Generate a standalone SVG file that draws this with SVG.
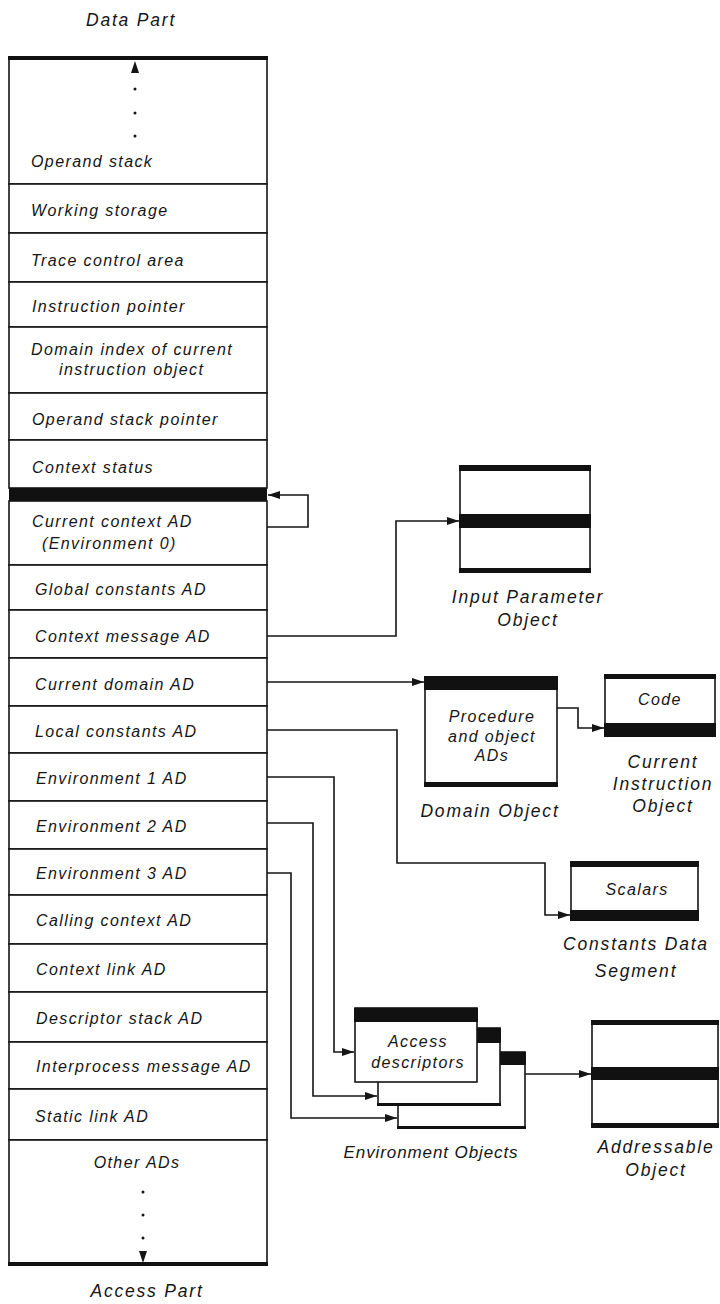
<svg xmlns="http://www.w3.org/2000/svg" width="720" height="1304" viewBox="0 0 720 1304">
  <style>
    text { font-family: "Liberation Sans", Arial, sans-serif; font-style: italic; fill: #151515; }
    .lbl { font-size: 16px; letter-spacing: 1.4px; }
    .cap { font-size: 17.5px; letter-spacing: 1.8px; }
    .mid { text-anchor: middle; }
    .box { fill: #fff; stroke: #151515; stroke-width: 1.6; }
    .row { fill: #fff; stroke: #151515; stroke-width: 1.6; }
    .bar { fill: #111; }
    .wire { fill: none; stroke: #151515; stroke-width: 1.6; }
    .dot { fill: #151515; }
  </style>
  <defs>
    <marker id="ah" viewBox="0 0 12 8" refX="12" refY="4" markerWidth="12" markerHeight="8" markerUnits="userSpaceOnUse" orient="auto">
      <path d="M0,0 L12,4 L0,8 Z" fill="#151515"/>
    </marker>
  </defs>

  <rect width="720" height="1304" fill="#fff"/>

  <!-- captions of the context object -->
  <text id="data-part" class="cap mid" x="131" y="26">Data Part</text>
  <text id="access-part" class="cap mid" x="147" y="1297">Access Part</text>

  <!-- context object: data part rows -->
  <g id="operand-stack">
    <rect class="row" x="9" y="58" width="258" height="126"/>
    <path d="M135,61 L139,73 L131,73 Z" class="dot"/>
    <circle class="dot" cx="135" cy="89" r="1.5"/>
    <circle class="dot" cx="135" cy="113" r="1.5"/>
    <circle class="dot" cx="135" cy="136" r="1.5"/>
    <text class="lbl" x="31" y="167">Operand stack</text>
  </g>
  <g id="working-storage">
    <rect class="row" x="9" y="184" width="258" height="49"/>
    <text class="lbl" x="31" y="216">Working storage</text>
  </g>
  <g id="trace-control">
    <rect class="row" x="9" y="233" width="258" height="49"/>
    <text class="lbl" x="31" y="266">Trace control area</text>
  </g>
  <g id="instruction-pointer">
    <rect class="row" x="9" y="282" width="258" height="45"/>
    <text class="lbl" x="32" y="312">Instruction pointer</text>
  </g>
  <g id="domain-index">
    <rect class="row" x="9" y="327" width="258" height="66"/>
    <text class="lbl" x="31" y="355">Domain index of current</text>
    <text class="lbl" x="59" y="375">instruction object</text>
  </g>
  <g id="operand-stack-pointer">
    <rect class="row" x="9" y="393" width="258" height="47"/>
    <text class="lbl" x="32" y="425">Operand stack pointer</text>
  </g>
  <g id="context-status">
    <rect class="row" x="9" y="440" width="258" height="48"/>
    <text class="lbl" x="32" y="473">Context status</text>
  </g>
  <!-- boundary between data part and access part -->
  <rect id="part-boundary" class="bar" x="9" y="488" width="258" height="13"/>

  <!-- context object: access part rows -->
  <g id="current-context-ad">
    <rect class="row" x="9" y="501" width="258" height="64"/>
    <text class="lbl" x="32" y="527">Current context AD</text>
    <text class="lbl" x="42" y="549">(Environment 0)</text>
  </g>
  <g id="global-constants-ad">
    <rect class="row" x="9" y="565" width="258" height="45"/>
    <text class="lbl" x="35" y="595">Global constants AD</text>
  </g>
  <g id="context-message-ad">
    <rect class="row" x="9" y="610" width="258" height="48"/>
    <text class="lbl" x="35" y="642">Context message AD</text>
  </g>
  <g id="current-domain-ad">
    <rect class="row" x="9" y="658" width="258" height="48"/>
    <text class="lbl" x="35" y="690">Current domain AD</text>
  </g>
  <g id="local-constants-ad">
    <rect class="row" x="9" y="706" width="258" height="47"/>
    <text class="lbl" x="35" y="737">Local constants AD</text>
  </g>
  <g id="environment-1-ad">
    <rect class="row" x="9" y="753" width="258" height="48"/>
    <text class="lbl" x="36" y="784">Environment 1 AD</text>
  </g>
  <g id="environment-2-ad">
    <rect class="row" x="9" y="801" width="258" height="48"/>
    <text class="lbl" x="36" y="832">Environment 2 AD</text>
  </g>
  <g id="environment-3-ad">
    <rect class="row" x="9" y="849" width="258" height="46"/>
    <text class="lbl" x="36" y="879">Environment 3 AD</text>
  </g>
  <g id="calling-context-ad">
    <rect class="row" x="9" y="895" width="258" height="49"/>
    <text class="lbl" x="36" y="926">Calling context AD</text>
  </g>
  <g id="context-link-ad">
    <rect class="row" x="9" y="944" width="258" height="48"/>
    <text class="lbl" x="36" y="975">Context link AD</text>
  </g>
  <g id="descriptor-stack-ad">
    <rect class="row" x="9" y="992" width="258" height="50"/>
    <text class="lbl" x="36" y="1024">Descriptor stack AD</text>
  </g>
  <g id="interprocess-message-ad">
    <rect class="row" x="9" y="1042" width="258" height="47"/>
    <text class="lbl" x="36" y="1072">Interprocess message AD</text>
  </g>
  <g id="static-link-ad">
    <rect class="row" x="9" y="1089" width="258" height="51"/>
    <text class="lbl" x="35" y="1122">Static link AD</text>
  </g>
  <g id="other-ads">
    <rect class="row" x="9" y="1140" width="258" height="124"/>
    <text class="lbl mid" x="137" y="1168">Other ADs</text>
    <circle class="dot" cx="143" cy="1192" r="1.5"/>
    <circle class="dot" cx="143" cy="1215" r="1.5"/>
    <circle class="dot" cx="143" cy="1238" r="1.5"/>
    <path d="M143,1263 L147,1251 L139,1251 Z" class="dot"/>
  </g>
  <!-- heavy ends of the context object -->
  <rect class="bar" x="8" y="56" width="260" height="4"/>
  <rect class="bar" x="8" y="1262" width="260" height="4"/>

  <!-- referenced objects -->
  <g id="input-parameter-object">
    <rect class="box" x="460" y="468" width="130" height="103"/>
    <rect class="bar" x="459" y="465" width="132" height="6"/>
    <rect class="bar" x="459" y="514" width="132" height="14"/>
    <rect class="bar" x="459" y="568" width="132" height="5"/>
    <text class="cap mid" x="528" y="603">Input Parameter</text>
    <text class="cap mid" x="528" y="626">Object</text>
  </g>
  <g id="domain-object">
    <rect class="box" x="425" y="677" width="132" height="108"/>
    <rect class="bar" x="424" y="676" width="134" height="14"/>
    <rect class="bar" x="424" y="782" width="134" height="5"/>
    <text class="lbl mid" x="492" y="722">Procedure</text>
    <text class="lbl mid" x="492" y="742">and object</text>
    <text class="lbl mid" x="492" y="761">ADs</text>
    <text class="cap mid" x="490" y="817">Domain Object</text>
  </g>
  <g id="current-instruction-object">
    <rect class="box" x="605" y="676" width="110" height="60"/>
    <rect class="bar" x="604" y="674" width="112" height="5"/>
    <rect class="bar" x="604" y="723" width="112" height="14"/>
    <text class="lbl mid" x="660" y="705">Code</text>
    <text class="cap mid" x="663" y="768">Current</text>
    <text class="cap mid" x="663" y="790">Instruction</text>
    <text class="cap mid" x="663" y="812">Object</text>
  </g>
  <g id="constants-data-segment">
    <rect class="box" x="571" y="863" width="127" height="57"/>
    <rect class="bar" x="570" y="861" width="129" height="6"/>
    <rect class="bar" x="570" y="910" width="129" height="11"/>
    <text class="lbl mid" x="637" y="895">Scalars</text>
    <text class="cap mid" x="636" y="950">Constants Data</text>
    <text class="cap mid" x="636" y="977">Segment</text>
  </g>
  <g id="environment-objects">
    <rect class="box" x="398" y="1052" width="127" height="75"/>
    <rect class="bar" x="398" y="1052" width="128" height="13"/>
    <rect class="bar" x="397" y="1126" width="129" height="3"/>
    <rect class="box" x="378" y="1028" width="122" height="76"/>
    <rect class="bar" x="378" y="1028" width="123" height="15"/>
    <rect class="bar" x="377" y="1103" width="124" height="3"/>
    <rect class="box" x="355" y="1008" width="122" height="74"/>
    <rect class="bar" x="354" y="1008" width="124" height="14"/>
    <text class="lbl mid" x="418" y="1047">Access</text>
    <text class="lbl mid" x="418" y="1068">descriptors</text>
    <text class="cap mid" x="431" y="1158" style="font-size:17px;letter-spacing:0.9px">Environment Objects</text>
  </g>
  <g id="addressable-object">
    <rect class="box" x="592" y="1022" width="126" height="104"/>
    <rect class="bar" x="591" y="1020" width="128" height="5"/>
    <rect class="bar" x="591" y="1067" width="128" height="13"/>
    <rect class="bar" x="591" y="1123" width="128" height="5"/>
    <text class="cap mid" x="656" y="1153">Addressable</text>
    <text class="cap mid" x="656" y="1176">Object</text>
  </g>

  <!-- access descriptor references -->
  <g id="connectors">
    <path class="wire" d="M267,527 H308 V495 H268" marker-end="url(#ah)"/>
    <path class="wire" d="M267,636 H396 V521 H459" marker-end="url(#ah)"/>
    <path class="wire" d="M267,682 H424" marker-end="url(#ah)"/>
    <path class="wire" d="M557,708 H578 V728 H604" marker-end="url(#ah)"/>
    <path class="wire" d="M267,730 H397 V863 H545 V915 H570" marker-end="url(#ah)"/>
    <path class="wire" d="M267,777 H334 V1052 H354" marker-end="url(#ah)"/>
    <path class="wire" d="M267,823 H313 V1096 H377" marker-end="url(#ah)"/>
    <path class="wire" d="M267,873 H291 V1118 H397" marker-end="url(#ah)"/>
    <path class="wire" d="M525,1074 H591" marker-end="url(#ah)"/>
  </g>
</svg>
